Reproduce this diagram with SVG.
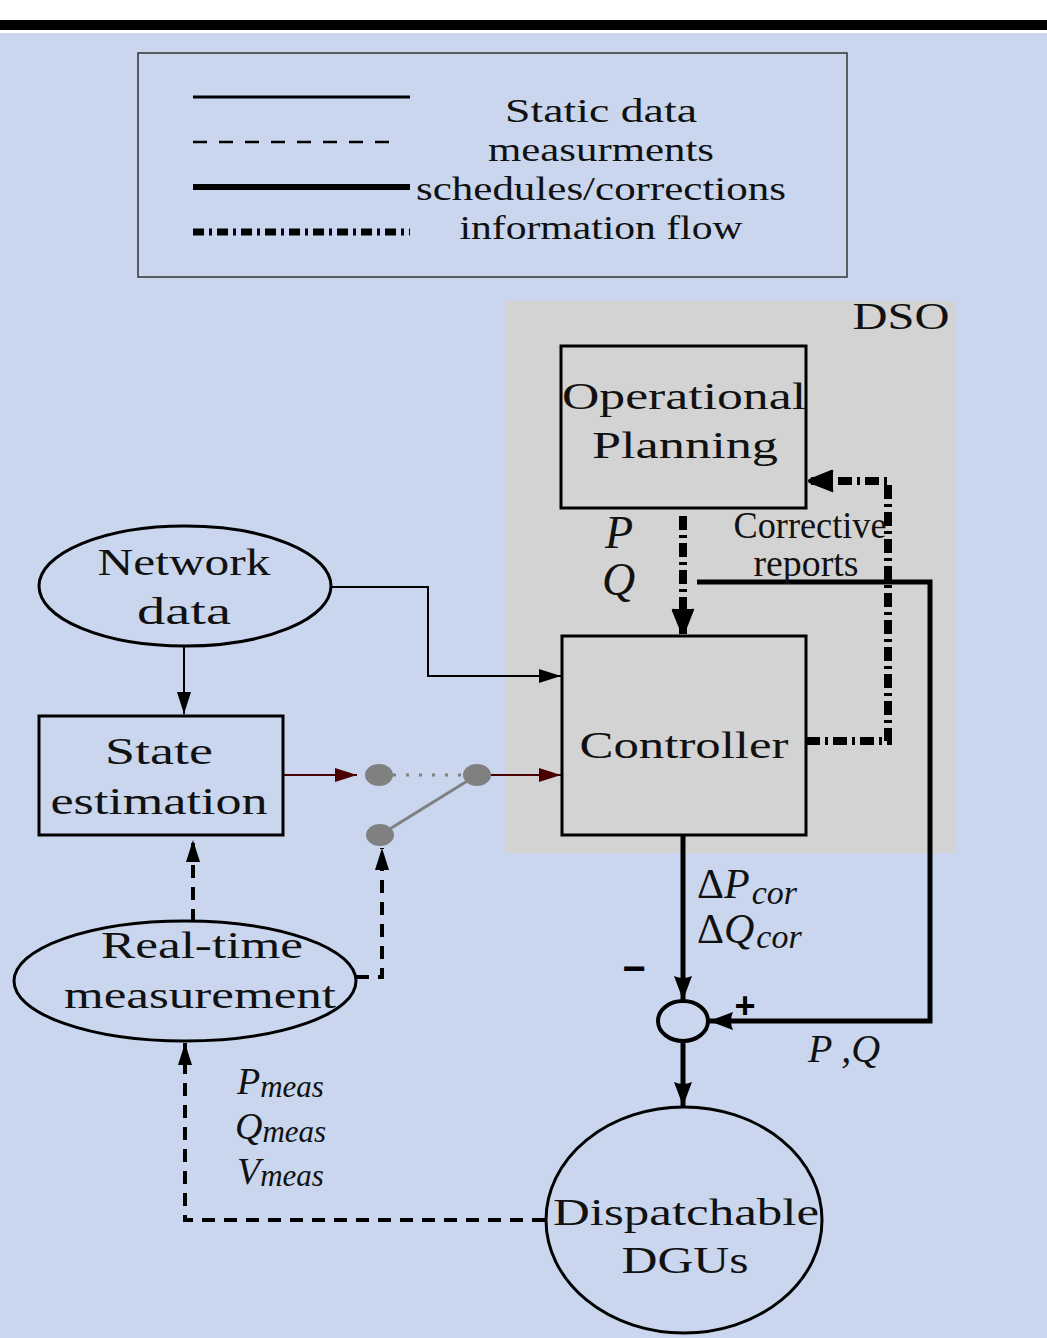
<svg xmlns="http://www.w3.org/2000/svg" width="1047" height="1338" viewBox="0 0 1047 1338">
<style>
.t{font-family:"Liberation Serif","Times New Roman",serif;font-size:38px;fill:#111;text-anchor:middle}
.lg{font-size:33px}
.m{font-family:"Liberation Serif","Times New Roman",serif;font-style:italic;fill:#111}
.node{fill:none;stroke:#000;stroke-width:3}
.thin{fill:none;stroke:#000;stroke-width:2}
.dash{fill:none;stroke:#000;stroke-width:4;stroke-dasharray:13 9}
.dd{fill:none;stroke:#000;stroke-width:8;stroke-dasharray:14 5 3 5}
.thick{fill:none;stroke:#000;stroke-width:5}
.red{fill:none;stroke:#4a0000;stroke-width:2}
</style>
<defs>
<marker id="a" markerUnits="userSpaceOnUse" markerWidth="24" markerHeight="16" refX="22" refY="8" orient="auto"><path d="M0,1 L22,8 L0,15 z" fill="#000"/></marker>
<marker id="ar" markerUnits="userSpaceOnUse" markerWidth="24" markerHeight="16" refX="22" refY="8" orient="auto"><path d="M0,1 L22,8 L0,15 z" fill="#4a0000"/></marker>
<marker id="ab" markerUnits="userSpaceOnUse" markerWidth="30" markerHeight="26" refX="26" refY="13" orient="auto"><path d="M2,2 Q0,1 1,5 L1,21 Q0,25 3,24 L25,15 Q27,13 25,11 z" fill="#000"/></marker>
<marker id="ad" markerUnits="userSpaceOnUse" markerWidth="26" markerHeight="22" refX="24" refY="11" orient="auto"><path d="M0,2 L24,11 L0,20 Q4,11 0,2 z" fill="#000"/></marker>
</defs>
<rect width="1047" height="1338" fill="#fff"/>
<rect y="20" width="1047" height="10" fill="#000"/>
<rect y="33" width="1047" height="1305" fill="#c9d6ee"/>

<g id="legend">
<rect x="138" y="53" width="709" height="224" fill="none" stroke="#333" stroke-width="1.5"/>
<line x1="193" y1="97" x2="410" y2="97" stroke="#000" stroke-width="3"/>
<line x1="193" y1="142" x2="397" y2="142" stroke="#000" stroke-width="2.5" stroke-dasharray="14 12"/>
<line x1="193" y1="187" x2="410" y2="187" stroke="#000" stroke-width="6"/>
<line x1="193" y1="232" x2="410" y2="232" stroke="#000" stroke-width="7" stroke-dasharray="11 5 3 5"/>
<text class="t lg" x="601" y="122" textLength="192" lengthAdjust="spacingAndGlyphs">Static data</text>
<text class="t lg" x="601" y="161" textLength="226" lengthAdjust="spacingAndGlyphs">measurments</text>
<text class="t lg" x="601" y="200" textLength="370" lengthAdjust="spacingAndGlyphs">schedules/corrections</text>
<text class="t lg" x="601" y="239" textLength="283" lengthAdjust="spacingAndGlyphs">information flow</text>
</g>

<g id="dso">
<rect x="506" y="301" width="450" height="552" fill="#d3d3d3"/>
<text class="t" x="901" y="329" textLength="97" lengthAdjust="spacingAndGlyphs">DSO</text>
</g>

<g id="connectors">
<path class="thin" d="M184,646 V714" marker-end="url(#a)"/>
<path class="thin" d="M331,587 H428 V676 H561" marker-end="url(#a)"/>
<path class="red" d="M283,775 H357" marker-end="url(#ar)"/>
<path class="red" d="M491,775 H561" marker-end="url(#ar)"/>
<line x1="393" y1="775" x2="463" y2="775" stroke="#808080" stroke-width="3" stroke-dasharray="3 10"/>
<line x1="380" y1="835" x2="477" y2="775" stroke="#808080" stroke-width="3"/>
<path class="dash" d="M193,922 V840" marker-end="url(#a)"/>
<path class="dash" d="M356,977 H382 V848" marker-end="url(#a)"/>
<path class="dash" d="M545,1220 H185 V1043" marker-end="url(#a)"/>
<path class="dd" d="M683,516 V634" marker-end="url(#ab)"/>
<path class="dd" d="M806,741 H888 V481 H808" marker-end="url(#ab)"/>
<path class="thick" d="M697,582 H930 V1021 H709" marker-end="url(#ad)"/>
<path class="thick" d="M683,835 V1000" marker-end="url(#ad)"/>
<path class="thick" d="M683,1041 V1106" marker-end="url(#ad)"/>
</g>

<g id="switch">
<ellipse cx="379" cy="775" rx="14" ry="11" fill="#808080"/>
<ellipse cx="477" cy="775" rx="14" ry="11" fill="#808080"/>
<ellipse cx="380" cy="835" rx="14" ry="11" fill="#808080"/>
</g>

<g id="operational-planning">
<rect class="node" x="561" y="346" width="245" height="162"/>
<text class="t" x="684" y="409" textLength="244" lengthAdjust="spacingAndGlyphs">Operational</text>
<text class="t" x="685" y="458" textLength="186" lengthAdjust="spacingAndGlyphs">Planning</text>
</g>

<g id="controller">
<rect class="node" x="562" y="636" width="244" height="199"/>
<text class="t" x="684" y="758" textLength="209" lengthAdjust="spacingAndGlyphs">Controller</text>
</g>

<g id="network-data">
<ellipse class="node" cx="185" cy="586" rx="146" ry="60"/>
<text class="t" x="184" y="575" textLength="173" lengthAdjust="spacingAndGlyphs">Network</text>
<text class="t" x="184" y="624" textLength="94" lengthAdjust="spacingAndGlyphs">data</text>
</g>

<g id="state-estimation">
<rect class="node" x="39" y="716" width="244" height="119"/>
<text class="t" x="159" y="764" textLength="108" lengthAdjust="spacingAndGlyphs">State</text>
<text class="t" x="159" y="814" textLength="217" lengthAdjust="spacingAndGlyphs">estimation</text>
</g>

<g id="real-time-measurement">
<ellipse class="node" cx="185" cy="981" rx="171" ry="60"/>
<text class="t" x="202" y="958" textLength="202" lengthAdjust="spacingAndGlyphs">Real-time</text>
<text class="t" x="200" y="1008" textLength="272" lengthAdjust="spacingAndGlyphs">measurement</text>
</g>

<g id="summing-junction">
<ellipse cx="683" cy="1021" rx="25" ry="20" fill="none" stroke="#000" stroke-width="4"/>
<text x="634" y="982" font-family="Liberation Sans,Arial,sans-serif" font-size="40" font-weight="bold" text-anchor="middle" fill="#000">−</text>
<text x="745" y="1018" font-family="Liberation Sans,Arial,sans-serif" font-size="36" font-weight="bold" text-anchor="middle" fill="#000">+</text>
</g>

<g id="dispatchable-dgus">
<ellipse class="node" cx="684" cy="1220" rx="138" ry="113"/>
<text class="t" x="686" y="1225" textLength="266" lengthAdjust="spacingAndGlyphs">Dispatchable</text>
<text class="t" x="685" y="1273" textLength="127" lengthAdjust="spacingAndGlyphs">DGUs</text>
</g>

<g id="labels">
<text class="m" x="605" y="548" font-size="46">P</text>
<text class="m" x="602" y="595" font-size="46">Q</text>
<text class="t" x="810" y="538" font-size="24" textLength="153" lengthAdjust="spacingAndGlyphs">Corrective</text>
<text class="t" x="806" y="576" font-size="24" textLength="105" lengthAdjust="spacingAndGlyphs">reports</text>
<text class="m" x="697" y="898" font-size="42"><tspan font-style="normal">Δ</tspan>P<tspan font-size="34" dx="2" dy="6">cor</tspan></text>
<text class="m" x="697" y="943" font-size="42"><tspan font-style="normal">Δ</tspan>Q<tspan font-size="34" dx="2" dy="5">cor</tspan></text>
<text class="m" x="808" y="1062" font-size="40">P<tspan dx="14">,Q</tspan></text>
<text class="m" x="237" y="1094" font-size="38">P<tspan font-size="31" dy="3">meas</tspan></text>
<text class="m" x="235" y="1139" font-size="38">Q<tspan font-size="31" dy="3">meas</tspan></text>
<text class="m" x="237" y="1184" font-size="38">V<tspan font-size="31" dy="2">meas</tspan></text>
</g>
</svg>
